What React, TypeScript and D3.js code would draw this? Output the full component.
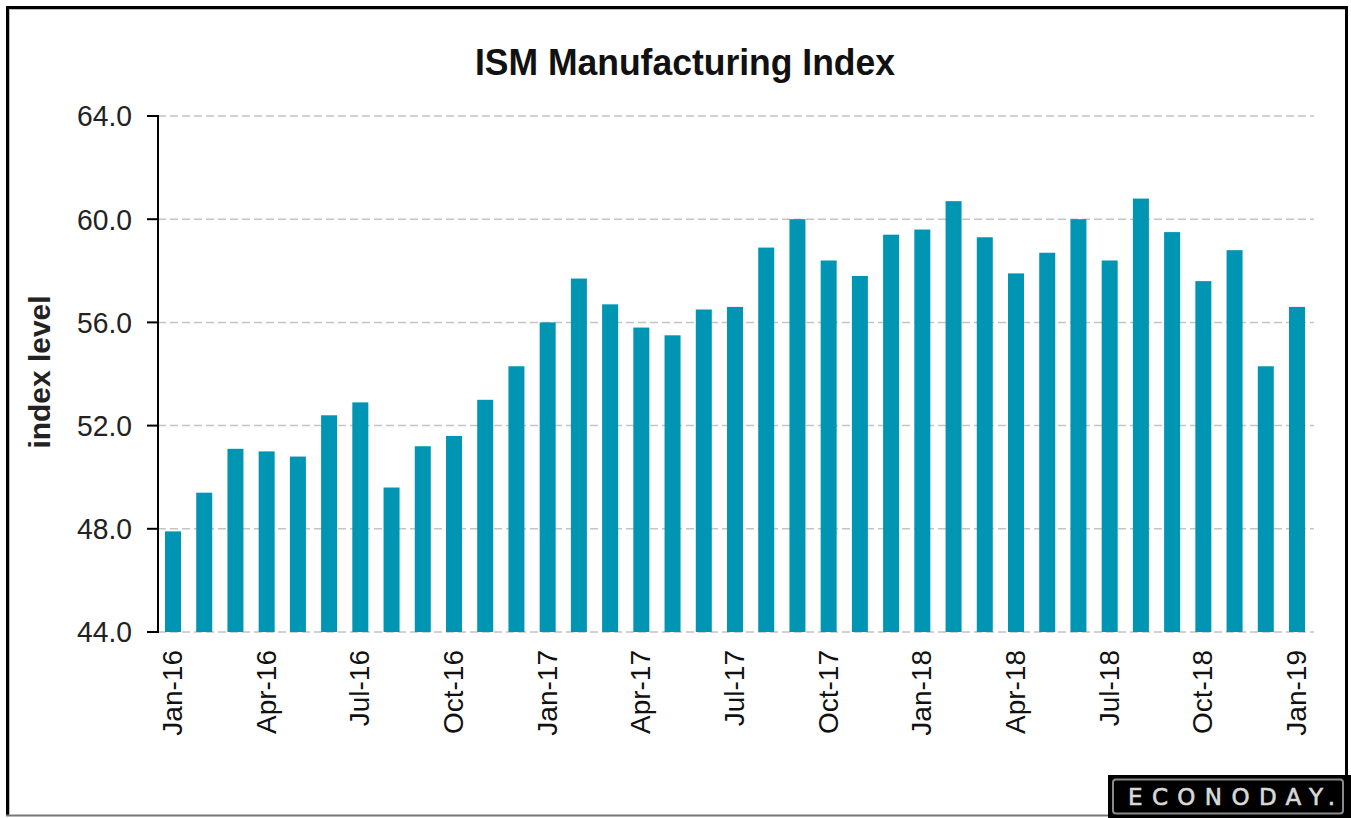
import React from "react";
import * as d3 from "d3";

const months: string[] = [
  "Jan-16","Feb-16","Mar-16","Apr-16","May-16","Jun-16","Jul-16","Aug-16","Sep-16","Oct-16","Nov-16","Dec-16",
  "Jan-17","Feb-17","Mar-17","Apr-17","May-17","Jun-17","Jul-17","Aug-17","Sep-17","Oct-17","Nov-17","Dec-17",
  "Jan-18","Feb-18","Mar-18","Apr-18","May-18","Jun-18","Jul-18","Aug-18","Sep-18","Oct-18","Nov-18","Dec-18",
  "Jan-19",
];
const values: number[] = [
  47.9, 49.4, 51.1, 51.0, 50.8, 52.4, 52.9, 49.6, 51.2, 51.6, 53.0, 54.3,
  56.0, 57.7, 56.7, 55.8, 55.5, 56.5, 56.6, 58.9, 60.0, 58.4, 57.8, 59.4,
  59.6, 60.7, 59.3, 57.9, 58.7, 60.0, 58.4, 60.8, 59.5, 57.6, 58.8, 54.3,
  56.6,
];
const yTicks: number[] = [44, 48, 52, 56, 60, 64];
const xTickLabels: string[] = months.filter((_, i) => i % 3 === 0);
const title = "ISM Manufacturing Index";
const yLabel = "index level";
const brand = "ECONODAY.";

const W = 1351;
const H = 818;
const FONT = "Arial, 'Liberation Sans', Helvetica, sans-serif";

export default function App() {
  const x = d3
    .scaleBand<string>()
    .domain(months)
    .range([157.5, 1312.5])
    .paddingInner(0.4875)
    .paddingOuter(0.24);
  const y = d3.scaleLinear().domain([44, 64]).range([632, 116]);
  const axisX = 158;
  const gridEnd = 1314;

  return (
    <svg
      width={W}
      height={H}
      style={{ position: "absolute", left: 0, top: 0, background: "#fff" }}
      fontFamily={FONT}
    >
      <rect x={0} y={0} width={W} height={H} fill="#fff" />
      {/* frame */}
      <line x1={7.5} y1={6} x2={7.5} y2={816} stroke="#000" strokeWidth={3} />
      <line x1={6} y1={7.5} x2={1348} y2={7.5} stroke="#000" strokeWidth={3} />
      <line x1={1346.5} y1={6} x2={1346.5} y2={776} stroke="#000" strokeWidth={3} />
      <line x1={6} y1={815.5} x2={1110} y2={815.5} stroke="#777" strokeWidth={2} />
      <line x1={9.5} y1={9} x2={9.5} y2={814} stroke="#bbb" strokeWidth={1} />
      <line x1={9} y1={9.5} x2={1345} y2={9.5} stroke="#bbb" strokeWidth={1} />

      {/* title */}
      <text
        x={685}
        y={75}
        textAnchor="middle"
        fontSize={36}
        fontWeight="bold"
        fill="#111"
        textLength={420}
        lengthAdjust="spacingAndGlyphs"
      >
        {title}
      </text>

      {/* gridlines */}
      {yTicks.map((t) => (
        <line
          key={"g" + t}
          x1={axisX}
          x2={gridEnd}
          y1={y(t)}
          y2={y(t)}
          stroke="#c4c4c4"
          strokeWidth={1.5}
          strokeDasharray="8,4"
        />
      ))}

      {/* bars */}
      {months.map((m, i) => (
        <rect
          key={m}
          x={x(m)}
          y={y(values[i])}
          width={x.bandwidth()}
          height={y(44) - y(values[i])}
          fill="#0095b3"
        />
      ))}

      {/* y axis */}
      <line x1={axisX} x2={axisX} y1={y(64) - 1} y2={y(44) + 1} stroke="#000" strokeWidth={2} />
      {yTicks.map((t) => (
        <g key={"t" + t}>
          <line x1={147} x2={axisX} y1={y(t)} y2={y(t)} stroke="#000" strokeWidth={2} />
          <text
            x={132}
            y={y(t)}
            dy="0.36em"
            textAnchor="end"
            fontSize={29}
            fill="#222"
            textLength={55}
            lengthAdjust="spacingAndGlyphs"
          >
            {t.toFixed(1)}
          </text>
        </g>
      ))}

      {/* y label */}
      <text
        transform={`translate(50,372) rotate(-90)`}
        textAnchor="middle"
        fontSize={29}
        fontWeight="bold"
        fill="#222"
        textLength={153}
        lengthAdjust="spacingAndGlyphs"
      >
        {yLabel}
      </text>

      {/* x tick labels */}
      {xTickLabels.map((m) => {
        const cx = (x(m) as number) + x.bandwidth() / 2;
        return (
          <text
            key={"x" + m}
            transform={`translate(${cx + 9},650) rotate(-90)`}
            textAnchor="end"
            fontSize={28}
            fill="#111"
          >
            {m}
          </text>
        );
      })}

      {/* brand logo */}
      <rect x={1108} y={775} width={W - 1108} height={H - 775} fill="#000" />
      <rect x={1113} y={779.5} width={230} height={34} rx={3} fill="none" stroke="#8a8a8a" strokeWidth={2} />
      <text
        x={1128}
        y={805}
        fontSize={23}
        fontWeight="normal"
        fill="#d8d8d8"
        stroke="#d8d8d8"
        strokeWidth={0.6}
        fontFamily="'DejaVu Sans', Verdana, sans-serif"
        textLength={207}
        lengthAdjust="spacing"
      >
        {brand}
      </text>
    </svg>
  );
}
